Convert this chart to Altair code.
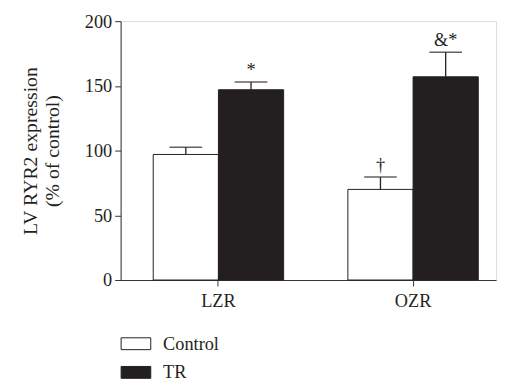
import altair as alt
import pandas as pd

groups = ["LZR", "LZR", "OZR", "OZR"]
treatments = ["Control", "TR", "Control", "TR"]
means = [97, 147, 70, 157]
upper = [102.5, 153, 79.5, 176]
marks = ["", "*", "†", "&*"]

df = pd.DataFrame({"group": groups, "treatment": treatments, "mean": means,
                   "upper": upper, "mark": marks})

FONT = "Liberation Serif"
DARK = "#231f20"

x = alt.X("group:N", title=None,
          scale=alt.Scale(paddingInner=0.33, paddingOuter=0.1294, align=0.647),
          axis=alt.Axis(labelAngle=0, labelFontSize=18.5, labelPadding=6, tickSize=6,
                        domainColor="#333", tickColor="#333", labelColor=DARK,
                        labelFont=FONT))
xo = alt.XOffset("treatment:N", scale=alt.Scale(paddingInner=0, paddingOuter=0))

base = alt.Chart(df)

bars = base.mark_bar(stroke=DARK, strokeWidth=1).encode(
    x=x, xOffset=xo,
    y=alt.Y("mean:Q", title=["LV RYR2 expression", "(% of control)"],
            scale=alt.Scale(domain=[0, 200]),
            axis=alt.Axis(values=[0, 50, 100, 150, 200], grid=False, tickSize=6,
                          labelFontSize=18.5, labelPadding=3, titleFontSize=20,
                          titleFont=FONT, labelFont=FONT, titleFontWeight="normal",
                          titlePadding=22, domainColor="#333", tickColor="#333",
                          labelColor=DARK, titleColor=DARK, titleLineHeight=22)),
    fill=alt.Fill("treatment:N",
                  scale=alt.Scale(domain=["Control", "TR"], range=["white", DARK]),
                  legend=alt.Legend(title=None, orient="none", legendX=0, legendY=311,
                                    symbolType="M-1,-0.4H1V0.4H-1Z", symbolSize=900,
                                    symbolStrokeColor=DARK, symbolStrokeWidth=1,
                                    labelFontSize=18.5, labelFont=FONT, labelColor=DARK,
                                    labelOffset=12, rowPadding=4, padding=0)),
)

err = base.mark_rule(color=DARK, strokeWidth=1.3).encode(
    x=x, xOffset=xo, y="mean:Q", y2="upper:Q")

caps = base.mark_tick(color=DARK, thickness=1.5, size=33, orient="horizontal").encode(
    x=x, xOffset=xo, y="upper:Q")

txt = base.mark_text(font=FONT, fontSize=18.5, color=DARK, baseline="alphabetic", dy=-6).encode(
    x=x, xOffset=xo, y="upper:Q", text="mark:N")

chart = alt.layer(bars, err, caps, txt).properties(
    width=380, height=262,
    padding={"left": 13, "top": 2, "right": 5, "bottom": 5}
).configure_view(stroke=None).configure(font=FONT)

chart.save("out.html", embed_options={"renderer": "svg", "actions": False})
